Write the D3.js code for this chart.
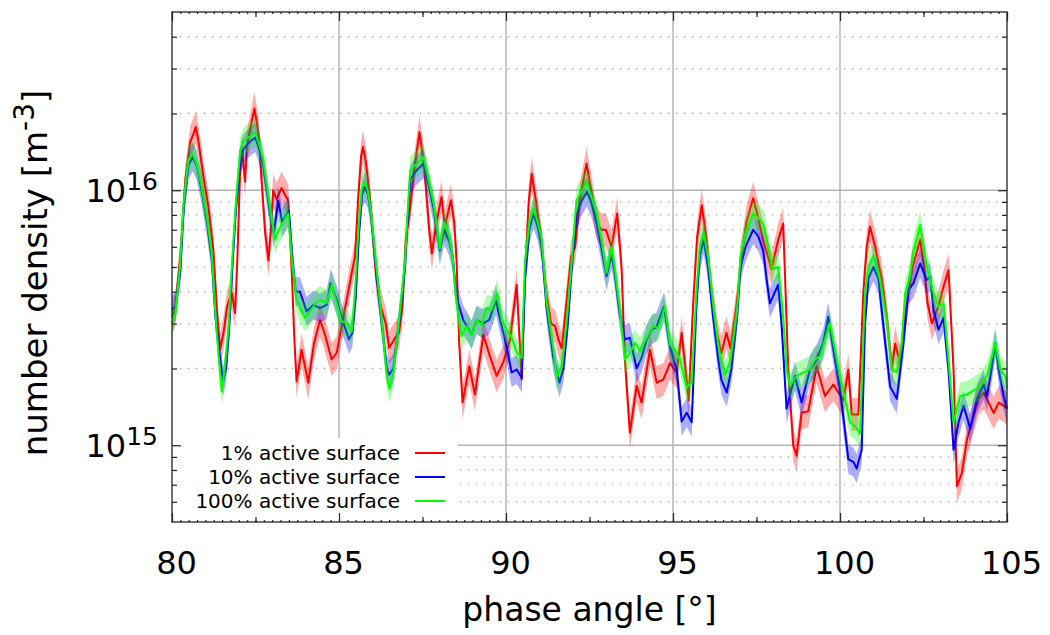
<!DOCTYPE html>
<html>
<head>
<meta charset="utf-8">
<script src="https://cdn.jsdelivr.net/npm/d3@7"></script>
<style>
  body { margin: 0; background: #fff; }
  svg { font-family: "DejaVu Sans", sans-serif; }
</style>
</head>
<body>
<svg id="chart" width="1050" height="635"></svg>
<script>
// number density in units of 1e15 m^-3, [phase angle (deg), density]
const UNIT = 1e15;

const dens1pct = [
  [80.0, 3.2], [80.1, 3.4], [80.25, 5.5], [80.4, 11.0], [80.55, 15.5], [80.64, 16.6], [80.71, 17.7], [80.79, 15.6],
  [80.94, 11.3], [81.09, 8.6], [81.24, 5.8], [81.35, 3.3], [81.44, 2.37], [81.55, 2.8], [81.65, 3.5],
  [81.79, 3.96], [81.89, 3.3], [81.96, 5.5], [82.04, 12.0], [82.1, 14.3], [82.19, 10.8], [82.24, 14.8], [82.39, 18.7],
  [82.47, 20.9], [82.59, 16.7], [82.69, 10.6], [82.79, 6.8], [82.89, 5.3], [82.96, 7.0], [83.03, 10.0], [83.13, 9.2],
  [83.28, 10.2], [83.48, 9.1],
  [83.58, 5.0], [83.67, 2.5], [83.73, 1.78], [83.88, 2.37], [84.08, 1.76], [84.25, 2.5], [84.43, 3.1], [84.55, 2.8],
  [84.78, 2.17], [84.93, 2.3], [85.08, 2.93], [85.23, 3.72], [85.38, 4.73], [85.48, 5.5], [85.58, 9.5], [85.66, 13.5],
  [85.72, 14.8], [85.8, 13.0], [85.92, 9.5], [86.02, 6.5], [86.12, 4.5], [86.25, 3.5], [86.4, 3.0], [86.5, 2.41],
  [86.65, 2.6], [86.8, 2.77],
  [86.9, 3.5], [87.0, 6.5], [87.1, 7.87], [87.25, 12.0], [87.41, 16.9], [87.55, 12.5], [87.7, 7.0], [87.78, 5.66],
  [87.92, 7.5], [88.07, 9.42], [88.17, 7.2], [88.35, 9.14], [88.45, 7.5], [88.52, 5.33], [88.6, 2.5], [88.7, 1.47],
  [88.9, 2.04], [89.07, 1.58], [89.32, 2.71], [89.52, 2.23], [89.72, 1.87], [89.92, 2.12], [90.12, 2.6], [90.32, 4.26],
  [90.47, 1.81], [90.58, 5.0], [90.68, 9.0], [90.77, 11.6], [90.9, 9.0], [91.05, 6.5], [91.2, 4.0], [91.35, 3.0],
  [91.47, 2.93], [91.57, 2.6], [91.67, 2.4], [91.8, 3.5], [91.95, 5.5], [92.07, 6.0], [92.2, 9.0], [92.41, 12.7],
  [92.55, 10.0], [92.7, 7.5], [92.85, 7.0], [92.99, 7.0], [93.16, 6.0], [93.33, 8.1], [93.46, 5.0], [93.56, 2.17],
  [93.71, 1.12], [93.91, 1.71], [94.06, 1.47], [94.31, 2.37], [94.51, 1.76], [94.71, 1.81], [94.91, 2.1], [95.11, 1.93],
  [95.26, 2.76], [95.47, 1.5], [95.6, 3.5], [95.72, 6.5], [95.86, 8.74], [96.0, 6.5], [96.15, 4.0], [96.3, 2.8],
  [96.45, 2.3], [96.6, 2.76], [96.72, 2.4], [96.9, 3.5], [97.05, 5.5], [97.2, 7.5], [97.4, 9.3], [97.55, 7.8],
  [97.7, 6.4], [97.95, 4.9], [98.15, 6.4], [98.3, 7.4], [98.45, 1.98], [98.6, 1.0], [98.7, 0.91], [98.85, 1.34],
  [99.05, 1.36], [99.3, 2.04], [99.55, 1.56], [99.8, 1.73], [99.95, 1.61], [100.1, 1.5], [100.25, 1.98], [100.35, 1.32],
  [100.55, 1.32], [100.7, 4.0], [100.8, 6.0], [100.9, 7.2], [101.05, 6.0], [101.25, 4.5], [101.4, 3.2], [101.55, 2.0],
  [101.65, 2.5], [101.8, 2.1], [101.95, 3.2], [102.15, 4.87], [102.4, 6.4], [102.52, 5.0], [102.62, 3.61], [102.75, 3.01],
  [102.95, 3.5], [103.1, 4.19], [103.25, 4.87], [103.4, 1.98], [103.5, 0.69], [103.65, 0.78], [103.8, 1.05], [104.0, 1.3],
  [104.15, 1.52], [104.3, 1.61], [104.45, 1.47], [104.6, 1.34], [104.75, 1.47], [104.9, 1.43], [105.0, 1.39]
];

const dens10pct = [
  [80.0, 3.4], [80.1, 3.5], [80.25, 4.8], [80.35, 8.5], [80.49, 12.5], [80.62, 13.5], [80.74, 12.5], [80.89, 10.0],
  [81.04, 7.6], [81.19, 5.4], [81.3, 3.2], [81.42, 2.3], [81.53, 1.78], [81.62, 2.0], [81.72, 3.0],
  [81.8, 4.8], [81.9, 8.0], [82.04, 13.0], [82.14, 14.5], [82.29, 15.3], [82.49, 16.1], [82.63, 14.3], [82.73, 12.5],
  [82.93, 8.2], [83.05, 6.8], [83.18, 9.1], [83.3, 7.5], [83.5, 8.3], [83.6, 5.5], [83.7, 4.01], [83.83, 4.0], [84.03, 3.35],
  [84.23, 3.55], [84.43, 3.45], [84.63, 3.55], [84.75, 4.32], [84.93, 3.72], [85.08, 3.16], [85.3, 2.6], [85.4, 2.76],
  [85.5, 3.8], [85.6, 6.8], [85.69, 9.6], [85.77, 10.3], [85.87, 9.6], [85.97, 7.8], [86.05, 6.0], [86.13, 4.6],
  [86.28, 3.0], [86.43, 2.0],
  [86.5, 1.89], [86.63, 2.0], [86.78, 2.9], [86.9, 4.0], [86.98, 5.0], [87.05, 7.5], [87.13, 11.0], [87.33, 12.0],
  [87.53, 12.7], [87.65, 11.0], [87.83, 8.5], [88.02, 5.8], [88.15, 7.0], [88.3, 6.3], [88.4, 5.5], [88.5, 4.0],
  [88.57, 3.6], [88.72, 3.1], [88.85, 2.9], [88.97, 2.71], [89.12, 3.1], [89.3, 3.0], [89.5, 3.1], [89.7, 3.7],
  [89.85, 3.0], [89.97, 2.6], [90.17, 1.93], [90.32, 1.98], [90.47, 1.84], [90.57, 4.5], [90.7, 7.0], [90.82, 8.1],
  [90.95, 7.2], [91.07, 6.0], [91.22, 3.4], [91.42, 2.2], [91.6, 1.76], [91.72, 2.0], [91.85, 3.0], [91.97, 5.0],
  [92.11, 8.0], [92.25, 9.0], [92.42, 9.85], [92.55, 9.0], [92.71, 7.5], [92.85, 6.0], [93.01, 4.6], [93.16, 5.6],
  [93.25, 4.8], [93.4, 3.3], [93.56, 2.6], [93.71, 2.64], [93.91, 2.0], [94.06, 2.2], [94.21, 2.6], [94.36, 2.84],
  [94.5, 2.9], [94.73, 3.5], [94.91, 2.43], [95.11, 1.98], [95.26, 1.24], [95.41, 1.34], [95.56, 1.23], [95.7, 3.5],
  [95.8, 5.5], [95.92, 6.4], [96.05, 5.0], [96.2, 3.2], [96.35, 2.2], [96.45, 1.8], [96.61, 1.61], [96.75, 2.0],
  [96.92, 3.2], [97.02, 5.0], [97.17, 6.0], [97.4, 7.0], [97.55, 6.6], [97.7, 5.8], [97.8, 4.5], [97.9, 3.6],
  [98.15, 4.26], [98.25, 3.0], [98.4, 1.39], [98.65, 1.87], [98.85, 1.47], [99.1, 1.98], [99.3, 2.17], [99.5, 2.52],
  [99.65, 3.19], [99.8, 2.37], [100.0, 1.66], [100.25, 0.88], [100.4, 0.86], [100.5, 0.81], [100.65, 0.96], [100.75, 3.0],
  [100.85, 4.5], [101.0, 5.0], [101.15, 4.5], [101.3, 2.93], [101.5, 1.7], [101.7, 1.52], [101.9, 2.52], [102.05, 4.07],
  [102.2, 4.32], [102.4, 5.16], [102.6, 4.45], [102.7, 4.59], [102.8, 3.4], [102.95, 2.84], [103.1, 3.16], [103.25, 1.98],
  [103.4, 0.96], [103.55, 1.23], [103.7, 1.43], [103.9, 1.16], [104.1, 1.52], [104.3, 1.73], [104.4, 1.56], [104.55, 2.04],
  [104.65, 2.52], [104.75, 1.98], [104.9, 1.56], [105.0, 1.39]
];

const dens100pct = [
  [80.0, 3.0], [80.1, 3.3], [80.24, 5.0], [80.35, 9.0], [80.49, 13.1], [80.61, 13.9], [80.74, 12.7], [80.89, 10.3],
  [81.04, 7.9], [81.19, 5.7], [81.3, 3.3], [81.4, 2.2], [81.49, 1.63], [81.58, 2.0], [81.7, 3.0],
  [81.79, 5.0], [81.9, 8.5], [82.04, 14.3], [82.14, 15.6], [82.29, 16.1], [82.49, 16.9], [82.63, 14.8], [82.73, 13.1],
  [82.93, 8.6], [83.08, 6.4], [83.2, 7.0], [83.35, 7.6], [83.48, 8.1], [83.58, 5.5], [83.73, 3.72], [83.85, 3.4], [83.98, 3.16],
  [84.1, 3.3], [84.23, 3.5], [84.33, 3.65], [84.43, 3.72], [84.63, 3.61], [84.78, 4.26], [84.93, 3.61], [85.08, 3.06],
  [85.23, 3.01], [85.38, 2.79], [85.48, 4.0], [85.58, 7.0], [85.68, 10.2], [85.76, 10.8], [85.86, 10.0], [85.96, 8.2],
  [86.05, 6.2], [86.13, 4.87],
  [86.28, 3.1], [86.43, 1.87], [86.51, 1.66], [86.63, 1.93], [86.78, 2.93], [86.9, 4.2], [86.98, 5.3], [87.05, 8.0],
  [87.13, 11.97], [87.33, 12.7], [87.53, 13.5], [87.65, 11.5], [87.83, 8.9], [88.02, 5.9], [88.15, 7.5], [88.3, 6.6],
  [88.4, 5.5], [88.5, 3.8], [88.57, 3.29], [88.67, 2.68], [88.82, 2.93], [88.97, 2.71], [89.12, 3.1], [89.27, 2.97],
  [89.42, 3.44], [89.57, 3.4], [89.74, 3.95], [89.87, 3.1], [90.02, 2.84], [90.17, 2.64], [90.32, 2.31], [90.47, 2.2],
  [90.57, 5.3], [90.7, 7.5], [90.82, 8.48], [90.95, 7.5], [91.07, 6.4], [91.22, 3.61], [91.42, 2.37], [91.52, 1.84],
  [91.67, 2.04], [91.82, 3.1], [91.97, 5.33], [92.11, 9.14], [92.25, 9.8], [92.41, 10.8], [92.55, 9.5], [92.71, 8.1],
  [92.85, 6.5], [93.01, 4.73], [93.16, 6.0], [93.25, 5.0], [93.4, 3.5], [93.56, 2.17], [93.71, 2.3], [93.86, 2.52],
  [94.01, 2.34], [94.21, 2.64], [94.41, 2.93], [94.56, 2.89], [94.76, 3.5], [94.91, 2.48], [95.06, 2.37], [95.21, 2.17],
  [95.41, 1.68], [95.56, 1.76], [95.7, 4.0], [95.8, 6.0], [95.92, 6.8], [96.05, 5.5], [96.2, 3.6], [96.35, 2.5],
  [96.42, 2.23], [96.57, 1.89], [96.72, 2.17], [96.92, 3.4], [97.02, 5.5], [97.17, 6.8], [97.4, 8.1], [97.55, 7.8],
  [97.7, 7.4], [97.85, 6.0], [97.98, 4.9], [98.15, 5.0], [98.3, 3.19], [98.4, 1.98], [98.5, 1.71], [98.7, 1.87],
  [98.9, 1.93], [99.1, 1.98], [99.25, 2.17], [99.4, 2.23], [99.55, 2.6], [99.7, 3.01], [99.85, 2.37], [100.0, 1.87],
  [100.15, 1.52], [100.3, 1.23], [100.45, 1.19], [100.6, 1.11], [100.75, 4.0], [100.85, 5.0], [101.0, 5.5], [101.2, 4.45],
  [101.4, 3.1], [101.55, 1.98], [101.7, 1.93], [101.85, 2.52], [101.95, 3.95], [102.1, 4.59], [102.18, 5.66], [102.4, 7.3],
  [102.6, 5.0], [102.8, 3.95], [102.95, 3.5], [103.1, 3.6], [103.25, 2.17], [103.4, 1.23], [103.6, 1.56], [103.8, 1.58],
  [104.0, 1.64], [104.2, 1.71], [104.4, 1.87], [104.55, 2.23], [104.65, 2.52], [104.8, 1.98], [104.95, 1.87], [105.0, 1.66]
];

// relative spread of the shaded bands (multiplicative)
const bandFactor = [1.16, 1.14, 1.13];
const seriesNames = ["1% active surface", "10% active surface", "100% active surface"];
const seriesColors = ["#ff0000", "#0000ff", "#00ff00"];

const phaseTicks = [80, 85, 90, 95, 100, 105];
const phaseMidTicks = [82.5, 87.5, 92.5, 97.5, 102.5];
const densMajorTicks = [1e15, 1e16];
const densMinorTicks = [6e14, 7e14, 8e14, 9e14, 2e15, 3e15, 4e15, 5e15, 6e15, 7e15, 8e15, 9e15, 2e16, 3e16, 4e16];
const densTickExp = ["15", "16"];

const margin = { top: 12, right: 43, bottom: 113, left: 172 };
const width = 1050 - margin.left - margin.right;
const height = 635 - margin.top - margin.bottom;

const svg = d3.select("#chart");
const g = svg.append("g").attr("transform", `translate(${margin.left},${margin.top})`);

const x = d3.scaleLinear().domain([80, 105]).range([0, width]);
const y = d3.scaleLog().domain([5e14, 5e16]).range([height, 0]);

// grid
g.append("g").selectAll("line")
  .data(densMinorTicks)
  .join("line")
  .attr("x1", 0).attr("x2", width)
  .attr("y1", d => y(d)).attr("y2", d => y(d))
  .attr("stroke", "#999").attr("stroke-width", 1.2)
  .attr("stroke-dasharray", "1.2,6.8");

g.append("g").selectAll("line")
  .data(densMajorTicks)
  .join("line")
  .attr("x1", 0).attr("x2", width)
  .attr("y1", d => y(d)).attr("y2", d => y(d))
  .attr("stroke", "#b4b4b4").attr("stroke-width", 1.5);

g.append("g").selectAll("line")
  .data(phaseTicks.slice(1, -1))
  .join("line")
  .attr("x1", d => x(d)).attr("x2", d => x(d))
  .attr("y1", 0).attr("y2", height)
  .attr("stroke", "#b4b4b4").attr("stroke-width", 1.5);

// legend background hides grid
g.append("rect")
  .attr("x", 0).attr("y", 426)
  .attr("width", 286).attr("height", height - 426)
  .attr("fill", "#fff");

// series
const series = [dens1pct, dens10pct, dens100pct];

series.forEach((data, i) => {
  const f = bandFactor[i];
  const area = d3.area()
    .x(d => x(d[0]))
    .y0(d => y(d[1] * UNIT / f))
    .y1(d => y(d[1] * UNIT * f));
  const line = d3.line()
    .x(d => x(d[0]))
    .y(d => y(d[1] * UNIT));

  g.append("path")
    .datum(data)
    .attr("d", area)
    .attr("fill", seriesColors[i])
    .attr("fill-opacity", 0.32);

  g.append("path")
    .datum(data)
    .attr("d", line)
    .attr("fill", "none")
    .attr("stroke", seriesColors[i])
    .attr("stroke-width", 2)
    .attr("stroke-linejoin", "round");
});

// axes (ticks pointing inward)
const axisStyle = sel => {
  sel.select(".domain").remove();
  sel.selectAll(".tick line").attr("stroke", "#222").attr("stroke-width", 1.2);
};

g.append("g")
  .attr("transform", `translate(0,${height})`)
  .call(d3.axisBottom(x).tickValues(d3.range(80, 105.001, 0.25)).tickSizeInner(-2).tickSizeOuter(0).tickFormat(""))
  .call(axisStyle);
g.append("g")
  .call(d3.axisTop(x).tickValues(d3.range(80, 105.001, 0.25)).tickSizeInner(-2).tickSizeOuter(0).tickFormat(""))
  .call(axisStyle);

g.append("g")
  .attr("transform", `translate(0,${height})`)
  .call(d3.axisBottom(x).tickValues(phaseMidTicks).tickSizeInner(-5).tickSizeOuter(0).tickFormat(""))
  .call(axisStyle);
g.append("g")
  .call(d3.axisTop(x).tickValues(phaseMidTicks).tickSizeInner(-5).tickSizeOuter(0).tickFormat(""))
  .call(axisStyle);

g.append("g")
  .attr("class", "x-axis")
  .attr("transform", `translate(0,${height})`)
  .call(d3.axisBottom(x).tickValues(phaseTicks).tickSizeInner(-9).tickSizeOuter(0).tickPadding(29)
    .tickFormat(d3.format("d")))
  .call(axisStyle)
  .call(a => a.selectAll(".tick text")
    .attr("font-size", 32).attr("font-family", "DejaVu Sans").attr("fill", "#000").attr("dx", 4));
g.append("g")
  .call(d3.axisTop(x).tickValues(phaseTicks).tickSizeInner(-9).tickSizeOuter(0).tickFormat(""))
  .call(axisStyle);

g.append("g")
  .call(d3.axisLeft(y).tickValues(densMinorTicks).tickSizeInner(-5).tickSizeOuter(0).tickFormat(""))
  .call(axisStyle);
g.append("g")
  .attr("transform", `translate(${width},0)`)
  .call(d3.axisRight(y).tickValues(densMinorTicks).tickSizeInner(-5).tickSizeOuter(0).tickFormat(""))
  .call(axisStyle);
g.append("g")
  .call(d3.axisLeft(y).tickValues(densMajorTicks).tickSizeInner(-9).tickSizeOuter(0).tickFormat(""))
  .call(axisStyle);
g.append("g")
  .attr("transform", `translate(${width},0)`)
  .call(d3.axisRight(y).tickValues(densMajorTicks).tickSizeInner(-9).tickSizeOuter(0).tickFormat(""))
  .call(axisStyle);

// y tick labels 10^n
densMajorTicks.forEach((v, i) => {
  const t = g.append("text")
    .attr("x", -14)
    .attr("y", y(v) + 12)
    .attr("text-anchor", "end")
    .attr("font-size", 32)
    .attr("fill", "#000");
  t.append("tspan").text("10");
  t.append("tspan").attr("dy", -12).attr("font-size", 25).text(densTickExp[i]);
});

// frame
g.append("rect")
  .attr("width", width).attr("height", height)
  .attr("fill", "none").attr("stroke", "#222").attr("stroke-width", 1.3);

// axis titles
svg.append("text")
  .attr("x", margin.left + width / 2)
  .attr("y", 621)
  .attr("text-anchor", "middle")
  .attr("font-size", 33)
  .attr("fill", "#000")
  .text("phase angle [°]");

const yl = svg.append("text")
  .attr("transform", `translate(47,273) rotate(-90)`)
  .attr("text-anchor", "middle")
  .attr("font-size", 34)
  .attr("fill", "#000");
yl.append("tspan").text("number density [m");
yl.append("tspan").attr("dy", -13).attr("font-size", 28).text("-3");
yl.append("tspan").attr("dy", 13).text("]");

// legend
const legend = g.append("g");
const legendRowY = [441, 465, 489];
seriesNames.forEach((name, i) => {
  legend.append("text")
    .attr("x", 228)
    .attr("y", legendRowY[i])
    .attr("dy", "0.35em")
    .attr("text-anchor", "end")
    .attr("font-size", 20)
    .attr("fill", "#000")
    .text(name);
  legend.append("line")
    .attr("x1", 243).attr("x2", 273)
    .attr("y1", legendRowY[i]).attr("y2", legendRowY[i])
    .attr("stroke", seriesColors[i])
    .attr("stroke-width", 2);
});
</script>
</body>
</html>
